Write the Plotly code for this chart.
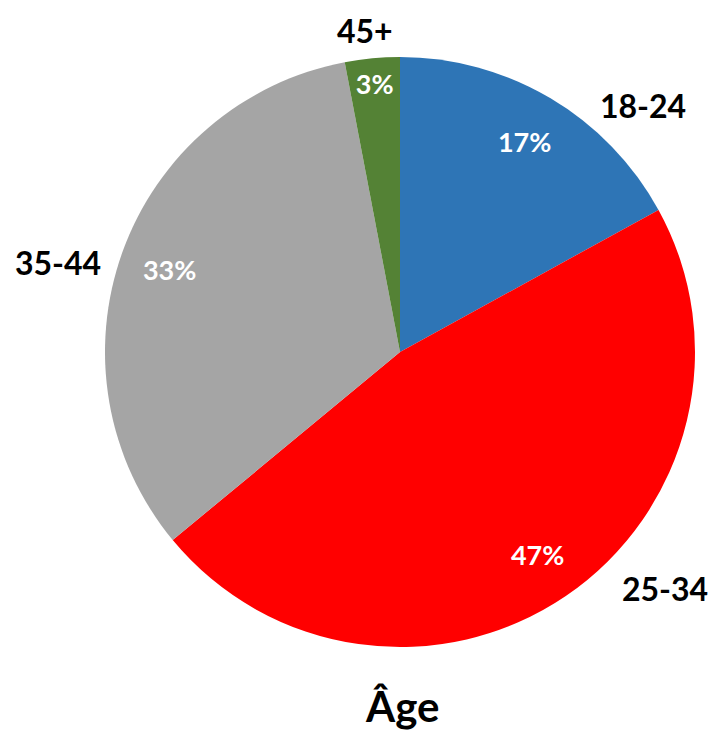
import plotly.graph_objects as go

categories = ["18-24", "25-34", "35-44", "45+"]
values = [17, 47, 33, 3]
colors = ["#2E75B6", "#FF0000", "#A5A5A5", "#548235"]
title_text = "Âge"

FONT = "Lato"
dom = dict(x=[105/712, 695/712], y=[1-647/732, 1-57/732])

fig = go.Figure()
fig.add_trace(go.Pie(
    labels=categories, values=values, sort=False, direction="clockwise",
    rotation=0, marker=dict(colors=colors, line=dict(width=0)),
    textinfo="none", hoverinfo="label+percent", domain=dom, showlegend=False,
))
fig.add_trace(go.Pie(
    labels=categories, values=values, sort=False, direction="clockwise",
    rotation=0, hole=0.66,
    marker=dict(colors=["rgba(0,0,0,0)"] * len(values), line=dict(width=0)),
    texttemplate="%{percent:.0%}", textposition="inside",
    insidetextorientation="horizontal",
    insidetextfont=dict(family=FONT, size=27, color="white", weight="bold"),
    hoverinfo="skip", domain=dom, showlegend=False,
))

label_pos = {"18-24": (643, 105), "25-34": (665, 588), "35-44": (58, 262), "45+": (365, 30)}
for cat in categories:
    px, py = label_pos[cat]
    fig.add_annotation(x=px/712, y=1-py/732, xref="paper", yref="paper",
                       text=cat, showarrow=False, xanchor="center", yanchor="middle",
                       font=dict(family=FONT, size=32, color="black", weight="bold"))

fig.add_annotation(x=402/712, y=0, xref="paper", yref="paper",
                   text=title_text, showarrow=False, xanchor="center", yanchor="bottom",
                   borderpad=0,
                   font=dict(family=FONT, size=42, color="black", weight="bold"))

fig.update_layout(width=712, height=732, margin=dict(l=0, r=0, t=0, b=0),
                  paper_bgcolor="white", plot_bgcolor="white")
fig.write_html("out.html", config={"displayModeBar": False},
               post_script="document.body.style.margin='0';document.body.style.overflow='hidden';")
